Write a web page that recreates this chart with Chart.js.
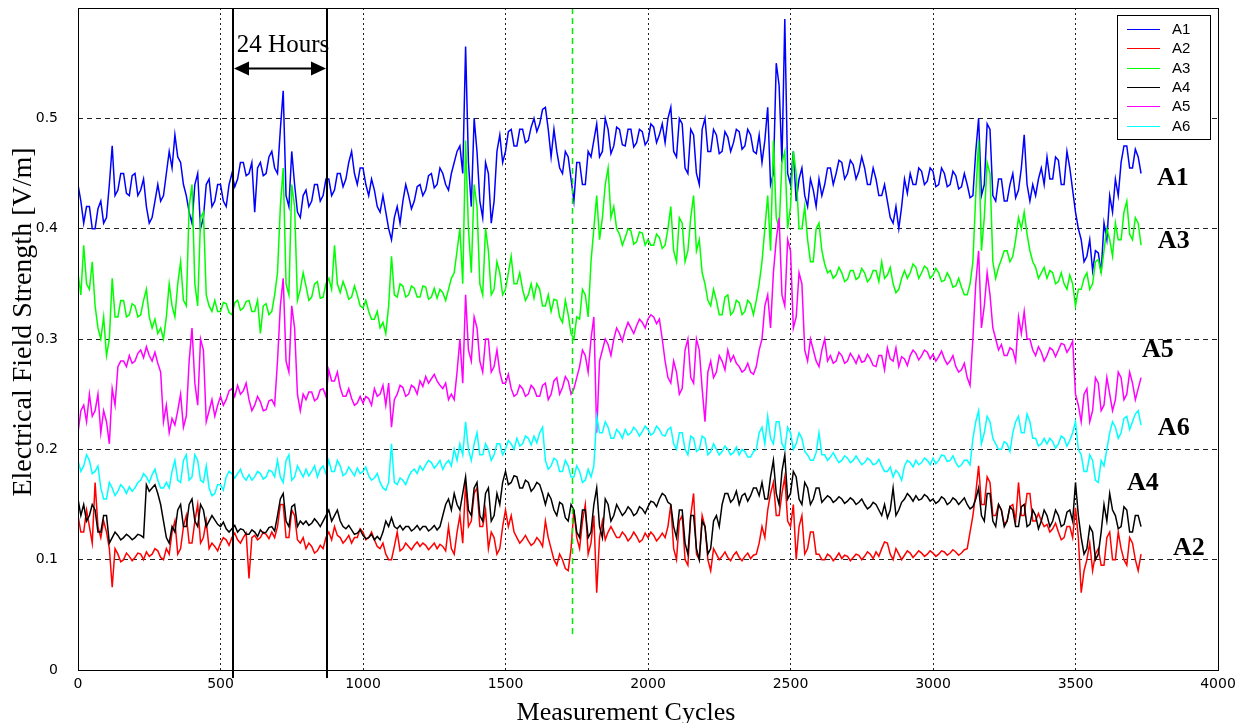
<!DOCTYPE html>
<html lang="en">
<head>
<meta charset="UTF-8">
<title>Electrical Field Strength</title>
<script src="https://cdn.jsdelivr.net/npm/chart.js"></script>
<style>
  html, body { margin: 0; padding: 0; background: #fff; }
  #chart { display: block; }
</style>
</head>
<body>
<canvas id="chart" width="1248" height="723"></canvas>
<script>
  // one reading every 20 measurement cycles (0 .. 3720);
  // each series has two lists: aN is read at k*20, aNb is the other edge
  // of the noise band, read at k*20 + 10
  const cycleStep = 20;

  const seriesNames = ['A1', 'A2', 'A3', 'A4', 'A5', 'A6'];
  const seriesColors = ['#0000ff', '#ff0000', '#00ff00', '#000000', '#ff00ff', '#00ffff'];

  const xTickValues = [0, 500, 1000, 1500, 2000, 2500, 3000, 3500, 4000];
  const yTickValues = [0, 0.1, 0.2, 0.3, 0.4, 0.5];

  // A1 (blue)
  const a1 = [
    0.44, 0.405, 0.42, 0.40, 0.425, 0.41, 0.475, 0.435, 0.45, 0.43,
    0.45, 0.435, 0.42, 0.41, 0.44, 0.43, 0.47, 0.485, 0.46, 0.43,
    0.405, 0.45, 0.41, 0.445, 0.425, 0.44, 0.42, 0.45, 0.445, 0.46,
    0.45, 0.415, 0.46, 0.45, 0.47, 0.45, 0.525, 0.42, 0.44, 0.41,
    0.435, 0.425, 0.44, 0.43, 0.445, 0.435, 0.45, 0.445, 0.47, 0.44,
    0.455, 0.43, 0.435, 0.415, 0.415, 0.39, 0.42, 0.425, 0.43, 0.425,
    0.44, 0.435, 0.45, 0.44, 0.45, 0.435, 0.46, 0.475, 0.565, 0.42,
    0.47, 0.41, 0.45, 0.425, 0.485, 0.47, 0.49, 0.475, 0.49, 0.48,
    0.5, 0.495, 0.51, 0.465, 0.47, 0.45, 0.465, 0.425, 0.46, 0.44,
    0.465, 0.495, 0.47, 0.49, 0.475, 0.49, 0.475, 0.49, 0.478, 0.488,
    0.48, 0.492, 0.485, 0.478, 0.51, 0.465, 0.495, 0.45, 0.485, 0.44,
    0.5, 0.47, 0.485, 0.47, 0.483, 0.478, 0.488, 0.475, 0.485, 0.468,
    0.46, 0.51, 0.45, 0.53, 0.59, 0.44, 0.425, 0.455, 0.42, 0.435,
    0.445, 0.44, 0.455, 0.45, 0.46, 0.45, 0.458, 0.452, 0.455, 0.44,
    0.445, 0.43, 0.425, 0.405, 0.40, 0.445, 0.45, 0.44, 0.452, 0.443,
    0.452, 0.44, 0.45, 0.44, 0.448, 0.438, 0.44, 0.43, 0.5, 0.44,
    0.49, 0.425, 0.445, 0.425, 0.45, 0.435, 0.485, 0.425, 0.43, 0.455,
    0.465, 0.445, 0.462, 0.44, 0.455, 0.415, 0.39, 0.375, 0.362, 0.378,
    0.405, 0.43, 0.445, 0.46, 0.475, 0.455, 0.465
  ];
  const a1b = [
    0.425, 0.42, 0.40, 0.418, 0.405, 0.44, 0.43, 0.45, 0.432, 0.448,
    0.43, 0.445, 0.405, 0.425, 0.425, 0.45, 0.455, 0.465, 0.44, 0.415,
    0.44, 0.40, 0.44, 0.42, 0.44, 0.425, 0.44, 0.438, 0.46, 0.448,
    0.46, 0.455, 0.448, 0.465, 0.455, 0.49, 0.43, 0.47, 0.415, 0.43,
    0.42, 0.44, 0.425, 0.445, 0.43, 0.45, 0.438, 0.46, 0.45, 0.455,
    0.44, 0.445, 0.42, 0.43, 0.40, 0.41, 0.405, 0.44, 0.418, 0.438,
    0.43, 0.448, 0.437, 0.455, 0.44, 0.45, 0.47, 0.45, 0.46, 0.5,
    0.425, 0.46, 0.405, 0.47, 0.46, 0.488, 0.475, 0.49, 0.478, 0.492,
    0.488, 0.508, 0.49, 0.49, 0.455, 0.47, 0.445, 0.46, 0.44, 0.47,
    0.48, 0.465, 0.5, 0.468, 0.492, 0.476, 0.49, 0.474, 0.49, 0.476,
    0.495, 0.478, 0.495, 0.5, 0.47, 0.5, 0.455, 0.49, 0.45, 0.49,
    0.47, 0.49, 0.468, 0.488, 0.47, 0.49, 0.472, 0.49, 0.47, 0.485,
    0.48, 0.44, 0.55, 0.46, 0.45, 0.47, 0.445, 0.43, 0.445, 0.42,
    0.43, 0.455, 0.44, 0.462, 0.445, 0.462, 0.445, 0.465, 0.44, 0.455,
    0.43, 0.44, 0.41, 0.42, 0.42, 0.432, 0.44, 0.455, 0.44, 0.455,
    0.438, 0.455, 0.438, 0.452, 0.436, 0.45, 0.428, 0.47, 0.43, 0.495,
    0.43, 0.445, 0.425, 0.44, 0.428, 0.455, 0.44, 0.44, 0.445, 0.44,
    0.445, 0.465, 0.44, 0.47, 0.435, 0.40, 0.37, 0.39, 0.38, 0.36,
    0.39, 0.415, 0.43, 0.475, 0.455, 0.472, 0.45
  ];

  // A2 (red)
  const a2 = [
    0.14, 0.125, 0.13, 0.17, 0.12, 0.125, 0.075, 0.105, 0.1, 0.103,
    0.102, 0.105, 0.107, 0.105, 0.108, 0.1, 0.105, 0.135, 0.11, 0.14,
    0.115, 0.15, 0.12, 0.11, 0.112, 0.115, 0.118, 0.12, 0.118, 0.12,
    0.083, 0.122, 0.12, 0.123, 0.125, 0.13, 0.15, 0.12, 0.14, 0.115,
    0.11, 0.112, 0.108, 0.11, 0.125, 0.13, 0.12, 0.118, 0.115, 0.12,
    0.125, 0.12, 0.118, 0.11, 0.105, 0.1, 0.125, 0.11, 0.112, 0.113,
    0.112, 0.113, 0.112, 0.11, 0.112, 0.13, 0.105, 0.14, 0.17, 0.135,
    0.165, 0.13, 0.11, 0.12, 0.11, 0.145, 0.14, 0.12, 0.118, 0.117,
    0.115, 0.117, 0.135, 0.11, 0.095, 0.1, 0.09, 0.145, 0.11, 0.15,
    0.115, 0.07, 0.135, 0.125, 0.125, 0.12, 0.122, 0.12, 0.121, 0.118,
    0.12, 0.122, 0.12, 0.12, 0.15, 0.1, 0.14, 0.095, 0.16, 0.1,
    0.13, 0.09, 0.105, 0.103, 0.102, 0.104, 0.102, 0.103, 0.101, 0.105,
    0.13, 0.145, 0.17, 0.14, 0.175, 0.13, 0.1, 0.14, 0.11, 0.125,
    0.105, 0.1, 0.103, 0.102, 0.101, 0.103, 0.102, 0.104, 0.103, 0.105,
    0.107, 0.11, 0.115, 0.1, 0.105, 0.104, 0.106, 0.105, 0.106, 0.105,
    0.106, 0.105, 0.107, 0.106, 0.107, 0.106, 0.11, 0.14, 0.185, 0.15,
    0.17, 0.14, 0.145, 0.135, 0.15, 0.17, 0.14, 0.16, 0.135, 0.135,
    0.132, 0.128, 0.125, 0.12, 0.13, 0.147, 0.07, 0.1, 0.09, 0.11,
    0.095, 0.125, 0.1, 0.11, 0.095, 0.115, 0.09
  ];
  const a2b = [
    0.125, 0.145, 0.115, 0.13, 0.135, 0.11, 0.11, 0.098, 0.106, 0.099,
    0.106, 0.1, 0.103, 0.11, 0.102, 0.11, 0.125, 0.105, 0.13, 0.115,
    0.135, 0.115, 0.135, 0.115, 0.108, 0.12, 0.113, 0.124, 0.115, 0.124,
    0.12, 0.118, 0.125, 0.119, 0.12, 0.15, 0.12, 0.145, 0.118, 0.12,
    0.115, 0.106, 0.113, 0.12, 0.118, 0.122, 0.115, 0.122, 0.12, 0.128,
    0.118, 0.125, 0.112, 0.115, 0.1, 0.112, 0.108, 0.115, 0.109, 0.116,
    0.115, 0.109, 0.115, 0.114, 0.108, 0.11, 0.125, 0.115, 0.13, 0.16,
    0.13, 0.145, 0.125, 0.105, 0.13, 0.13, 0.125, 0.115, 0.122, 0.113,
    0.12, 0.112, 0.12, 0.1, 0.105, 0.092, 0.11, 0.12, 0.135, 0.105,
    0.14, 0.12, 0.118, 0.13, 0.12, 0.125, 0.117, 0.125, 0.116, 0.124,
    0.125, 0.117, 0.124, 0.13, 0.11, 0.135, 0.1, 0.14, 0.105, 0.14,
    0.1, 0.11, 0.1, 0.107, 0.099, 0.107, 0.099, 0.106, 0.104, 0.115,
    0.12, 0.16, 0.14, 0.16, 0.135, 0.15, 0.13, 0.105, 0.125, 0.105,
    0.1, 0.105, 0.099, 0.106, 0.104, 0.099, 0.105, 0.1, 0.107, 0.101,
    0.103, 0.116, 0.105, 0.11, 0.1, 0.108, 0.102, 0.108, 0.103, 0.108,
    0.103, 0.108, 0.104, 0.109, 0.104, 0.109, 0.125, 0.16, 0.15, 0.175,
    0.14, 0.15, 0.132, 0.148, 0.135, 0.14, 0.16, 0.135, 0.142, 0.13,
    0.125, 0.133, 0.118, 0.13, 0.12, 0.12, 0.09, 0.115, 0.105, 0.095,
    0.12, 0.1, 0.125, 0.1, 0.12, 0.1, 0.105
  ];

  // A3 (green)
  const a3 = [
    0.36, 0.385, 0.345, 0.33, 0.30, 0.285, 0.355, 0.32, 0.335, 0.322,
    0.33, 0.322, 0.345, 0.31, 0.305, 0.30, 0.35, 0.32, 0.37, 0.33,
    0.44, 0.33, 0.415, 0.33, 0.335, 0.325, 0.332, 0.322, 0.335, 0.328,
    0.335, 0.325, 0.305, 0.332, 0.325, 0.36, 0.455, 0.34, 0.42, 0.345,
    0.348, 0.338, 0.352, 0.338, 0.355, 0.385, 0.342, 0.345, 0.338, 0.34,
    0.328, 0.325, 0.318, 0.31, 0.305, 0.375, 0.338, 0.348, 0.34, 0.346,
    0.338, 0.347, 0.338, 0.337, 0.342, 0.345, 0.36, 0.40, 0.48, 0.36,
    0.42, 0.34, 0.38, 0.345, 0.36, 0.345, 0.375, 0.35, 0.345, 0.34,
    0.337, 0.345, 0.33, 0.325, 0.335, 0.315, 0.322, 0.30, 0.318, 0.34,
    0.37, 0.43, 0.41, 0.455, 0.42, 0.395, 0.392, 0.398, 0.388, 0.396,
    0.39, 0.385, 0.392, 0.385, 0.42, 0.37, 0.405, 0.38, 0.43, 0.39,
    0.35, 0.33, 0.335, 0.322, 0.34, 0.325, 0.333, 0.325, 0.332, 0.335,
    0.37, 0.43, 0.48, 0.40, 0.47, 0.42, 0.45, 0.40, 0.39, 0.37,
    0.405, 0.368, 0.362, 0.358, 0.36, 0.354, 0.362, 0.356, 0.36, 0.355,
    0.362, 0.37, 0.358, 0.35, 0.345, 0.362, 0.36, 0.365, 0.36, 0.364,
    0.358, 0.36, 0.353, 0.355, 0.348, 0.347, 0.34, 0.37, 0.48, 0.41,
    0.45, 0.355, 0.372, 0.38, 0.375, 0.41, 0.415, 0.38, 0.365, 0.36,
    0.355, 0.36, 0.352, 0.35, 0.358, 0.33, 0.345, 0.36, 0.35, 0.372,
    0.38, 0.39, 0.405, 0.39, 0.425, 0.39, 0.405
  ];
  const a3b = [
    0.34, 0.35, 0.37, 0.31, 0.32, 0.30, 0.32, 0.335, 0.32, 0.332,
    0.32, 0.335, 0.32, 0.318, 0.31, 0.32, 0.33, 0.35, 0.335, 0.42,
    0.35, 0.41, 0.34, 0.325, 0.325, 0.333, 0.324, 0.333, 0.326, 0.334,
    0.325, 0.335, 0.33, 0.322, 0.34, 0.42, 0.35, 0.44, 0.335, 0.36,
    0.335, 0.35, 0.337, 0.35, 0.345, 0.35, 0.352, 0.336, 0.348, 0.33,
    0.335, 0.318, 0.325, 0.315, 0.33, 0.34, 0.35, 0.338, 0.348, 0.338,
    0.348, 0.336, 0.346, 0.345, 0.335, 0.355, 0.38, 0.35, 0.40, 0.44,
    0.35, 0.40, 0.34, 0.37, 0.34, 0.36, 0.35, 0.36, 0.335, 0.35,
    0.35, 0.33, 0.34, 0.336, 0.32, 0.335, 0.305, 0.32, 0.345, 0.32,
    0.40, 0.39, 0.44, 0.41, 0.40, 0.385, 0.4, 0.386, 0.397, 0.385,
    0.385, 0.395, 0.382, 0.40, 0.38, 0.41, 0.37, 0.41, 0.38, 0.36,
    0.335, 0.345, 0.322, 0.338, 0.322, 0.335, 0.322, 0.335, 0.322, 0.35,
    0.40, 0.38, 0.41, 0.46, 0.40, 0.47, 0.40, 0.42, 0.37, 0.40,
    0.38, 0.36, 0.355, 0.365, 0.352, 0.362, 0.354, 0.364, 0.352, 0.362,
    0.352, 0.355, 0.365, 0.342, 0.355, 0.355, 0.368, 0.355, 0.366, 0.355,
    0.364, 0.352, 0.36, 0.347, 0.355, 0.34, 0.35, 0.43, 0.38, 0.46,
    0.37, 0.365, 0.38, 0.37, 0.39, 0.40, 0.395, 0.37, 0.355, 0.365,
    0.362, 0.35, 0.36, 0.345, 0.35, 0.345, 0.355, 0.345, 0.37, 0.36,
    0.40, 0.375, 0.39, 0.415, 0.395, 0.41, 0.385
  ];

  // A4 (black)
  const a4 = [
    0.155, 0.15, 0.14, 0.145, 0.125, 0.14, 0.12, 0.122, 0.12, 0.121,
    0.12, 0.122, 0.168, 0.165, 0.16, 0.135, 0.115, 0.125, 0.15, 0.13,
    0.155, 0.13, 0.145, 0.135, 0.136, 0.13, 0.128, 0.128, 0.125, 0.127,
    0.123, 0.125, 0.127, 0.125, 0.13, 0.14, 0.16, 0.13, 0.15, 0.135,
    0.135, 0.133, 0.134, 0.135, 0.145, 0.14, 0.135, 0.128, 0.127, 0.124,
    0.122, 0.12, 0.118, 0.118, 0.135, 0.138, 0.128, 0.127, 0.13, 0.128,
    0.127, 0.13, 0.128, 0.127, 0.14, 0.155, 0.16, 0.145, 0.175, 0.14,
    0.17, 0.135, 0.165, 0.14, 0.15, 0.18, 0.17, 0.175, 0.165, 0.17,
    0.165, 0.168, 0.15, 0.155, 0.14, 0.15, 0.135, 0.145, 0.12, 0.145,
    0.125, 0.165, 0.12, 0.15, 0.14, 0.145, 0.143, 0.145, 0.142, 0.146,
    0.148, 0.152, 0.155, 0.158, 0.15, 0.12, 0.145, 0.105, 0.14, 0.10,
    0.13, 0.11, 0.14, 0.15, 0.16, 0.155, 0.15, 0.16, 0.158, 0.165,
    0.17, 0.155, 0.19, 0.15, 0.195, 0.16, 0.175, 0.15, 0.165, 0.155,
    0.165, 0.155, 0.156, 0.154, 0.155, 0.153, 0.154, 0.152, 0.15, 0.148,
    0.15, 0.14, 0.138, 0.165, 0.145, 0.155, 0.157, 0.158, 0.155, 0.157,
    0.155, 0.153, 0.155, 0.152, 0.154, 0.153, 0.15, 0.148, 0.165, 0.135,
    0.16, 0.13, 0.145, 0.135, 0.145, 0.13, 0.15, 0.132, 0.14, 0.135,
    0.14, 0.135, 0.14, 0.132, 0.145, 0.17, 0.12, 0.11, 0.125, 0.105,
    0.15, 0.16, 0.14, 0.13, 0.145, 0.125, 0.14
  ];
  const a4b = [
    0.14, 0.135, 0.15, 0.125, 0.14, 0.115, 0.125, 0.118, 0.123, 0.118,
    0.123, 0.12, 0.162, 0.168, 0.15, 0.12, 0.13, 0.145, 0.13, 0.15,
    0.135, 0.15, 0.13, 0.14, 0.132, 0.134, 0.125, 0.131, 0.128, 0.123,
    0.127, 0.121, 0.124, 0.129, 0.126, 0.155, 0.135, 0.148, 0.13, 0.132,
    0.131, 0.137, 0.13, 0.14, 0.135, 0.145, 0.13, 0.131, 0.123, 0.127,
    0.119, 0.123, 0.121, 0.125, 0.13, 0.13, 0.131, 0.13, 0.126, 0.131,
    0.13, 0.126, 0.131, 0.13, 0.15, 0.145, 0.15, 0.16, 0.145, 0.165,
    0.14, 0.16, 0.135, 0.16, 0.17, 0.168, 0.176, 0.165, 0.172, 0.162,
    0.17, 0.16, 0.16, 0.145, 0.152, 0.138, 0.15, 0.125, 0.145, 0.12,
    0.15, 0.13, 0.155, 0.135, 0.15, 0.14, 0.148, 0.14, 0.148, 0.142,
    0.153, 0.148, 0.16, 0.152, 0.13, 0.145, 0.115, 0.14, 0.11, 0.135,
    0.105, 0.135, 0.13, 0.16, 0.152, 0.162, 0.158, 0.153, 0.165, 0.158,
    0.155, 0.175, 0.16, 0.18, 0.155, 0.18, 0.155, 0.17, 0.15, 0.165,
    0.152, 0.158, 0.152, 0.157, 0.151, 0.156, 0.15, 0.155, 0.146, 0.152,
    0.145, 0.15, 0.145, 0.14, 0.152, 0.16, 0.153, 0.154, 0.159, 0.153,
    0.151, 0.157, 0.15, 0.156, 0.15, 0.156, 0.146, 0.155, 0.14, 0.16,
    0.135, 0.15, 0.13, 0.148, 0.13, 0.148, 0.13, 0.145, 0.128, 0.145,
    0.13, 0.145, 0.13, 0.143, 0.135, 0.14, 0.105, 0.13, 0.1, 0.125,
    0.135, 0.145, 0.128, 0.148, 0.125, 0.14, 0.13
  ];

  // A5 (magenta)
  const a5 = [
    0.215, 0.24, 0.25, 0.235, 0.215, 0.225, 0.255, 0.275, 0.28, 0.285,
    0.28, 0.29, 0.293, 0.28, 0.278, 0.225, 0.215, 0.222, 0.25, 0.23,
    0.31, 0.24, 0.29, 0.235, 0.23, 0.248, 0.245, 0.255, 0.258, 0.253,
    0.245, 0.24, 0.243, 0.236, 0.245, 0.28, 0.355, 0.27, 0.31, 0.235,
    0.245, 0.252, 0.246, 0.255, 0.272, 0.262, 0.256, 0.248, 0.246, 0.242,
    0.242, 0.246, 0.255, 0.25, 0.24, 0.22, 0.25, 0.256, 0.25, 0.256,
    0.262, 0.266, 0.264, 0.262, 0.255, 0.245, 0.245, 0.30, 0.34, 0.28,
    0.31, 0.27, 0.30, 0.275, 0.27, 0.26, 0.255, 0.25, 0.255, 0.25,
    0.255, 0.248, 0.26, 0.25, 0.265, 0.256, 0.262, 0.255, 0.275, 0.285,
    0.30, 0.215, 0.29, 0.295, 0.30, 0.305, 0.308, 0.31, 0.312, 0.315,
    0.318, 0.32, 0.318, 0.28, 0.26, 0.27, 0.255, 0.30, 0.26, 0.29,
    0.225, 0.28, 0.27, 0.28, 0.29, 0.285, 0.275, 0.272, 0.27, 0.275,
    0.30, 0.34, 0.36, 0.41, 0.33, 0.38, 0.32, 0.35, 0.28, 0.29,
    0.275, 0.30, 0.285, 0.28, 0.285, 0.28, 0.283, 0.285, 0.28, 0.282,
    0.275, 0.285, 0.292, 0.28, 0.275, 0.282, 0.285, 0.287, 0.285, 0.288,
    0.286, 0.284, 0.282, 0.28, 0.275, 0.272, 0.265, 0.30, 0.38, 0.33,
    0.34, 0.30, 0.295, 0.285, 0.29, 0.32, 0.325, 0.30, 0.285, 0.288,
    0.285, 0.29, 0.29, 0.295, 0.292, 0.25, 0.225, 0.255, 0.235, 0.26,
    0.24, 0.25, 0.245, 0.265, 0.25, 0.26, 0.255
  ];
  const a5b = [
    0.235, 0.225, 0.23, 0.25, 0.235, 0.205, 0.24, 0.28, 0.275, 0.278,
    0.287, 0.283, 0.285, 0.288, 0.27, 0.24, 0.228, 0.235, 0.22, 0.28,
    0.26, 0.30, 0.225, 0.245, 0.24, 0.24, 0.253, 0.248, 0.25, 0.26,
    0.235, 0.248, 0.235, 0.244, 0.24, 0.33, 0.28, 0.33, 0.25, 0.25,
    0.252, 0.244, 0.254, 0.248, 0.262, 0.27, 0.248, 0.255, 0.24, 0.248,
    0.248, 0.24, 0.248, 0.258, 0.26, 0.245, 0.258, 0.248, 0.258, 0.25,
    0.257, 0.26, 0.268, 0.258, 0.26, 0.25, 0.27, 0.26, 0.29, 0.32,
    0.28, 0.3, 0.27, 0.29, 0.26, 0.268, 0.248, 0.258, 0.248, 0.258,
    0.248, 0.258, 0.245, 0.262, 0.25, 0.266, 0.25, 0.265, 0.29, 0.27,
    0.32, 0.28, 0.3, 0.285, 0.31, 0.298, 0.315, 0.305, 0.318, 0.31,
    0.322, 0.314, 0.3, 0.265, 0.28, 0.25, 0.29, 0.265, 0.3, 0.255,
    0.27, 0.265, 0.285, 0.272, 0.28, 0.278, 0.27, 0.278, 0.268, 0.29,
    0.33, 0.31, 0.39, 0.34, 0.39, 0.31, 0.36, 0.29, 0.30, 0.28,
    0.29, 0.28, 0.278, 0.288, 0.278, 0.287, 0.278, 0.279, 0.286, 0.276,
    0.285, 0.272, 0.282, 0.292, 0.284, 0.276, 0.29, 0.281, 0.29, 0.282,
    0.28, 0.289, 0.277, 0.285, 0.27, 0.278, 0.258, 0.35, 0.31, 0.36,
    0.31, 0.29, 0.285, 0.292, 0.28, 0.305, 0.3, 0.29, 0.293, 0.28,
    0.292, 0.284, 0.296, 0.288, 0.298, 0.24, 0.25, 0.225, 0.265, 0.235,
    0.265, 0.235, 0.27, 0.245, 0.27, 0.245, 0.265
  ];

  // A6 (cyan)
  const a6 = [
    0.19, 0.185, 0.19, 0.18, 0.165, 0.155, 0.165, 0.162, 0.165, 0.166,
    0.165, 0.172, 0.175, 0.177, 0.172, 0.165, 0.165, 0.19, 0.17, 0.195,
    0.175, 0.19, 0.17, 0.165, 0.16, 0.168, 0.175, 0.178, 0.178, 0.175,
    0.177, 0.175, 0.178, 0.175, 0.18, 0.19, 0.17, 0.195, 0.175, 0.18,
    0.182, 0.18, 0.175, 0.185, 0.19, 0.18, 0.185, 0.178, 0.18, 0.183,
    0.18, 0.176, 0.174, 0.17, 0.163, 0.205, 0.168, 0.172, 0.175, 0.182,
    0.185, 0.186, 0.188, 0.186, 0.182, 0.19, 0.2, 0.205, 0.225, 0.19,
    0.215, 0.195, 0.2, 0.195, 0.205, 0.2, 0.205, 0.21, 0.205, 0.21,
    0.212, 0.215, 0.19, 0.185, 0.19, 0.18, 0.185, 0.175, 0.18, 0.172,
    0.175, 0.23, 0.215, 0.22, 0.21, 0.215, 0.218, 0.215, 0.217, 0.216,
    0.218, 0.215, 0.218, 0.212, 0.22, 0.2, 0.215, 0.195, 0.21, 0.2,
    0.21, 0.198, 0.2, 0.198, 0.2, 0.197, 0.195, 0.198, 0.193, 0.2,
    0.22, 0.23, 0.205, 0.225, 0.2, 0.215, 0.205, 0.21, 0.195, 0.19,
    0.215, 0.195, 0.193, 0.192, 0.19, 0.192, 0.19, 0.19, 0.188, 0.19,
    0.187, 0.185, 0.18, 0.175, 0.178, 0.185, 0.188, 0.19, 0.188, 0.19,
    0.192, 0.19, 0.194, 0.19, 0.188, 0.186, 0.19, 0.21, 0.235, 0.215,
    0.225, 0.205, 0.2, 0.205, 0.215, 0.23, 0.215, 0.225, 0.21, 0.205,
    0.205, 0.207, 0.205, 0.21, 0.208, 0.225, 0.195, 0.18, 0.19, 0.17,
    0.185, 0.215, 0.22, 0.215, 0.23, 0.225, 0.235
  ];
  const a6b = [
    0.18, 0.195, 0.178, 0.185, 0.155, 0.17, 0.158, 0.168, 0.16, 0.162,
    0.17, 0.178, 0.17, 0.182, 0.165, 0.17, 0.18, 0.172, 0.19, 0.172,
    0.195, 0.172, 0.185, 0.158, 0.168, 0.163, 0.18, 0.174, 0.182, 0.172,
    0.172, 0.18, 0.173, 0.181, 0.175, 0.175, 0.19, 0.172, 0.185, 0.175,
    0.176, 0.185, 0.182, 0.178, 0.18, 0.19, 0.176, 0.184, 0.176, 0.178,
    0.184, 0.172, 0.178, 0.165, 0.17, 0.17, 0.174, 0.168, 0.18, 0.178,
    0.181, 0.19, 0.183, 0.19, 0.187, 0.185, 0.19, 0.195, 0.2, 0.205,
    0.195, 0.205, 0.19, 0.205, 0.195, 0.208, 0.2, 0.203, 0.212, 0.204,
    0.206, 0.22, 0.182, 0.192, 0.18, 0.19, 0.175, 0.185, 0.17, 0.182,
    0.185, 0.215, 0.225, 0.21, 0.218, 0.21, 0.213, 0.22, 0.212, 0.221,
    0.213, 0.221, 0.213, 0.218, 0.205, 0.215, 0.2, 0.212, 0.198, 0.212,
    0.195, 0.205, 0.195, 0.203, 0.195, 0.202, 0.2, 0.193, 0.198, 0.215,
    0.205, 0.21, 0.225, 0.205, 0.22, 0.2, 0.215, 0.198, 0.19, 0.197,
    0.195, 0.19, 0.197, 0.188, 0.194, 0.188, 0.194, 0.186, 0.192, 0.186,
    0.191, 0.18, 0.184, 0.181, 0.172, 0.19, 0.184, 0.186, 0.192, 0.186,
    0.187, 0.195, 0.189, 0.194, 0.184, 0.19, 0.186, 0.225, 0.205, 0.23,
    0.21, 0.2, 0.207, 0.198, 0.225, 0.215, 0.232, 0.21, 0.203, 0.21,
    0.21, 0.201, 0.212, 0.203, 0.215, 0.2, 0.18, 0.195, 0.172, 0.19,
    0.2, 0.225, 0.21, 0.228, 0.218, 0.232, 0.222
  ];

  const seriesValues = [[a1, a1b], [a2, a2b], [a3, a3b], [a4, a4b], [a5, a5b], [a6, a6b]];

  // annotation positions (in data units)
  const markerCycles = [544, 874];   // the "24 Hours" window
  const arrowLevel = 0.546;
  const refCycle = 1733;             // green dashed line
  const refBottom = 0.032;
  const sideLabels = [
    { text: 'A1', cycle: 3786, value: 0.446 },
    { text: 'A3', cycle: 3789, value: 0.389 },
    { text: 'A5', cycle: 3733, value: 0.29 },
    { text: 'A6', cycle: 3789, value: 0.219 },
    { text: 'A4', cycle: 3681, value: 0.169 },
    { text: 'A2', cycle: 3842, value: 0.11 }
  ];

  const tickFont = { family: "'DejaVu Sans', sans-serif", size: 14 };
  const serif = "'Liberation Serif', 'Times New Roman', serif";

  const datasets = seriesValues.map(([vals, other], i) => ({
    label: seriesNames[i],
    data: vals.flatMap((v, k) => [
      { x: k * cycleStep, y: v },
      { x: k * cycleStep + cycleStep / 2, y: other[k] }
    ]),
    borderColor: seriesColors[i],
    backgroundColor: seriesColors[i],
    borderWidth: 1.5,
    pointRadius: 0,
    tension: 0,
    order: seriesValues.length - i   // later series drawn on top
  }));

  const hideEdge = (lo, hi) => ctx => {
    const v = ctx.tick ? ctx.tick.value : null;
    return (v === lo || v === hi) ? 'rgba(0,0,0,0)' : '#222';
  };

  const overlay = {
    id: 'overlay',
    afterDatasetsDraw(chart) {
      const { ctx, chartArea: a, scales: { x, y } } = chart;
      ctx.save();

      // green dashed reference line
      const gx = Math.round(x.getPixelForValue(refCycle)) + 0.5;
      ctx.strokeStyle = '#00ee00';
      ctx.lineWidth = 1.5;
      ctx.setLineDash([6, 4]);
      ctx.beginPath();
      ctx.moveTo(gx, a.top);
      ctx.lineTo(gx, y.getPixelForValue(refBottom));
      ctx.stroke();
      ctx.setLineDash([]);

      // frame
      ctx.strokeStyle = '#000';
      ctx.lineWidth = 1;
      ctx.strokeRect(a.left + 0.5, a.top + 0.5, a.right - a.left, a.bottom - a.top);

      // 24 hour markers
      const xa = Math.round(x.getPixelForValue(markerCycles[0]));
      const xb = Math.round(x.getPixelForValue(markerCycles[1]));
      ctx.lineWidth = 2;
      [xa, xb].forEach(px => {
        ctx.beginPath();
        ctx.moveTo(px, a.top);
        ctx.lineTo(px, a.bottom + 8);
        ctx.stroke();
      });
      const ya = Math.round(y.getPixelForValue(arrowLevel)) + 0.5;
      ctx.beginPath();
      ctx.moveTo(xa + 12, ya);
      ctx.lineTo(xb - 12, ya);
      ctx.stroke();
      ctx.fillStyle = '#000';
      ctx.beginPath();
      ctx.moveTo(xa + 1, ya); ctx.lineTo(xa + 16, ya - 7); ctx.lineTo(xa + 16, ya + 7);
      ctx.closePath(); ctx.fill();
      ctx.beginPath();
      ctx.moveTo(xb - 1, ya); ctx.lineTo(xb - 16, ya - 7); ctx.lineTo(xb - 16, ya + 7);
      ctx.closePath(); ctx.fill();
      ctx.font = '25px ' + serif;
      ctx.textAlign = 'center';
      ctx.textBaseline = 'alphabetic';
      ctx.fillText('24 Hours', (xa + xb) / 2 + 3, ya - 17);

      // series names on the right
      ctx.font = 'bold 26px ' + serif;
      ctx.textAlign = 'left';
      ctx.textBaseline = 'middle';
      sideLabels.forEach(l => {
        ctx.fillText(l.text, x.getPixelForValue(l.cycle), y.getPixelForValue(l.value));
      });

      // legend box
      const lx = 1117, ly = 15, lw = 93, lh = 124;
      ctx.fillStyle = '#fff';
      ctx.fillRect(lx, ly, lw, lh);
      ctx.strokeStyle = '#000';
      ctx.lineWidth = 1;
      ctx.strokeRect(lx + 0.5, ly + 0.5, lw, lh);
      ctx.font = "15px 'Liberation Sans', Arial, sans-serif";
      chart.data.datasets.forEach((ds, i) => {
        const ry = Math.round(ly + 14 + i * 19.3) + 0.5;
        ctx.strokeStyle = ds.borderColor;
        ctx.beginPath();
        ctx.moveTo(lx + 10, ry);
        ctx.lineTo(lx + 43, ry);
        ctx.stroke();
        ctx.fillStyle = '#000';
        ctx.fillText(ds.label, lx + 55, ry);
      });

      ctx.restore();
    },
    afterDraw(chart) {
      const { ctx } = chart;
      ctx.save();
      ctx.fillStyle = '#000';
      ctx.textAlign = 'center';
      ctx.font = '26px ' + serif;
      ctx.textBaseline = 'alphabetic';
      ctx.fillText('Measurement Cycles', 626, 720);
      ctx.translate(24, 322);
      ctx.rotate(-Math.PI / 2);
      ctx.font = '28px ' + serif;
      ctx.textBaseline = 'middle';
      ctx.fillText('Electrical Field Strength [V/m]', 0, 0);
      ctx.restore();
    }
  };

  new Chart(document.getElementById('chart'), {
    type: 'line',
    data: { datasets },
    options: {
      responsive: false,
      animation: false,
      devicePixelRatio: 1,
      layout: { padding: { top: 8, right: 30, left: 0, bottom: 0 } },
      plugins: { legend: { display: false }, tooltip: { enabled: false } },
      scales: {
        x: {
          type: 'linear',
          min: 0,
          max: 4000,
          afterBuildTicks: s => { s.ticks = xTickValues.map(v => ({ value: v })); },
          afterFit: s => { s.height = 53; s.paddingLeft = 0; s.paddingRight = 0; },
          ticks: { color: '#000', font: tickFont, padding: 6, maxRotation: 0, autoSkip: false, callback: v => String(v) },
          grid: { drawTicks: false, color: hideEdge(0, 4000), lineWidth: 1 },
          border: { display: false, dash: [2, 3] }
        },
        y: {
          type: 'linear',
          min: 0,
          max: 0.6,
          afterBuildTicks: s => { s.ticks = yTickValues.map(v => ({ value: v })); },
          afterFit: s => { s.width = 78; s.paddingTop = 0; s.paddingBottom = 0; },
          ticks: { color: '#000', font: tickFont, padding: 20, callback: v => String(v) },
          grid: { drawTicks: false, color: hideEdge(0, 0.6), lineWidth: 1 },
          border: { display: false, dash: [5, 4] }
        }
      }
    },
    plugins: [overlay]
  });
</script>
</body>
</html>
